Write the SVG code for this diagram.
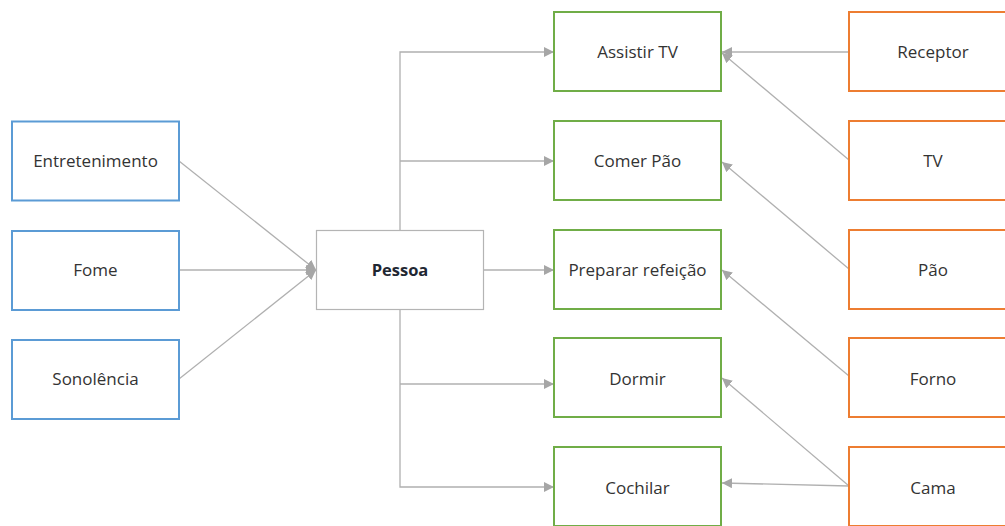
<svg xmlns="http://www.w3.org/2000/svg" width="1005" height="526" viewBox="0 0 1005 526">
<style>
.b{fill:#fff;stroke-width:2}
.blue{stroke:#5b9bd5}
.green{stroke:#70ad47}
.orange{stroke:#ed7d31}
.p{fill:#fff;stroke:#b4b4b4;stroke-width:1.2}
.t{font-family:"Open Sans","Noto Sans",sans-serif;font-size:17px;fill:#333;text-anchor:middle;dominant-baseline:central}
.tb{font-weight:bold;fill:#1f2733;font-size:16.5px}
.c{fill:none;stroke:#b0b0b0;stroke-width:1.3}
</style>
<defs>
<marker id="ah" markerUnits="userSpaceOnUse" markerWidth="12" markerHeight="10" refX="10" refY="5" orient="auto">
<path d="M0,0 L10,5 L0,10 z" fill="#a6a6a6"/>
</marker>
</defs>
<rect width="1005" height="526" fill="#fff"/>
<g id="connectors">
<path class="c" d="M179,161 L316,270" marker-end="url(#ah)"/>
<path class="c" d="M179,270 L316,270" marker-end="url(#ah)"/>
<path class="c" d="M179,379 L316,270" marker-end="url(#ah)"/>
<path class="c" d="M400,230 V52 H554" marker-end="url(#ah)"/>
<path class="c" d="M400,161 H554" marker-end="url(#ah)"/>
<path class="c" d="M483,270 H554" marker-end="url(#ah)"/>
<path class="c" d="M400,310 V487 H554" marker-end="url(#ah)"/>
<path class="c" d="M400,384 H554" marker-end="url(#ah)"/>
<path class="c" d="M849,52 H722" marker-end="url(#ah)"/>
<path class="c" d="M849,160 L722,53" marker-end="url(#ah)"/>
<path class="c" d="M849,269 L722,162" marker-end="url(#ah)"/>
<path class="c" d="M849,376 L722,270" marker-end="url(#ah)"/>
<path class="c" d="M849,486 L722,378" marker-end="url(#ah)"/>
<path class="c" d="M849,486 L722,483" marker-end="url(#ah)"/>
</g>
<g id="entretenimento"><rect class="b blue" x="12" y="121.5" width="167" height="79"/><text class="t" x="95.5" y="160">Entretenimento</text></g>
<g id="fome"><rect class="b blue" x="12" y="231" width="167" height="79"/><text class="t" x="95.5" y="269">Fome</text></g>
<g id="sonolencia"><rect class="b blue" x="12" y="340" width="167" height="79"/><text class="t" x="95.5" y="378">Sonolência</text></g>
<g id="pessoa"><rect class="p" x="316.5" y="230.5" width="167" height="79"/><text class="t tb" x="400" y="269">Pessoa</text></g>
<g id="assistir"><rect class="b green" x="554" y="12" width="167" height="79"/><text class="t" x="637.5" y="51">Assistir TV</text></g>
<g id="comer"><rect class="b green" x="554" y="121" width="167" height="79"/><text class="t" x="637.5" y="160">Comer Pão</text></g>
<g id="preparar"><rect class="b green" x="554" y="230" width="167" height="79"/><text class="t" x="637.5" y="269">Preparar refeição</text></g>
<g id="dormir"><rect class="b green" x="554" y="338" width="167" height="79"/><text class="t" x="637.5" y="378">Dormir</text></g>
<g id="cochilar"><rect class="b green" x="554" y="447" width="167" height="79"/><text class="t" x="637.5" y="487">Cochilar</text></g>
<g id="receptor"><rect class="b orange" x="849" y="12" width="167" height="79"/><text class="t" x="933" y="51">Receptor</text></g>
<g id="tv"><rect class="b orange" x="849" y="121" width="167" height="79"/><text class="t" x="933" y="160">TV</text></g>
<g id="pao"><rect class="b orange" x="849" y="230" width="167" height="79"/><text class="t" x="933" y="269">Pão</text></g>
<g id="forno"><rect class="b orange" x="849" y="338" width="167" height="79"/><text class="t" x="933" y="378">Forno</text></g>
<g id="cama"><rect class="b orange" x="849" y="447" width="167" height="79"/><text class="t" x="933" y="487">Cama</text></g>
</svg>
